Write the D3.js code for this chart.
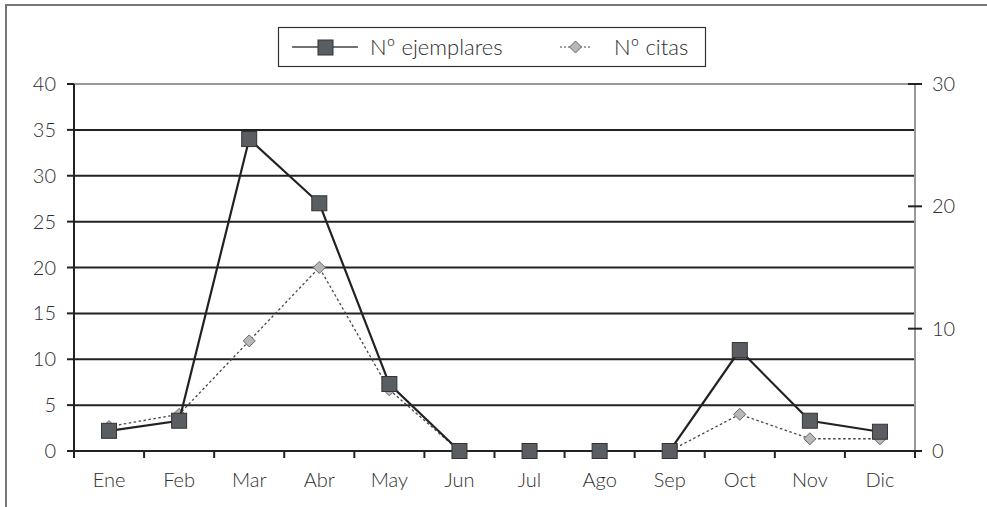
<!DOCTYPE html>
<html><head><meta charset="utf-8">
<script src="https://cdn.jsdelivr.net/npm/d3@7"></script>
<style>
body{margin:0;background:#fff;}
text{font-family:Lato,"Open Sans",sans-serif;font-weight:300;fill:#2e2e2e;}
</style></head><body>
<svg id="c" width="987" height="507"></svg>
<script>
const months = ["Ene","Feb","Mar","Abr","May","Jun","Jul","Ago","Sep","Oct","Nov","Dic"];
const ejemplares = [2.2,3.3,34,27,7.3,0,0,0,0,11,3.3,2.1];
const citas = [2,3,9,15,5,0,0,0,0,3,1,1];
const leftTicks = [0,5,10,15,20,25,30,35,40];
const rightTicks = [0,10,20,30];

const svg = d3.select("#c");
const L = 74, R = 915, T = 84, B = 451;

// frame
svg.append("path").attr("d","M6,507V5H987").attr("fill","none").attr("stroke","#777").attr("stroke-width",2);

const x = d3.scaleBand().domain(months).range([L,R]);
const yL = d3.scaleLinear().domain([0,40]).range([B,T]);
const yR = d3.scaleLinear().domain([0,30]).range([B,T]);

// gridlines
svg.append("g").selectAll("line").data(leftTicks.filter(d=>d>0)).join("line")
  .attr("x1",L).attr("x2",R).attr("y1",d=>yL(d)).attr("y2",d=>yL(d))
  .attr("stroke",d=>d===40?"#999":"#222").attr("stroke-width",2);

// right axis line
svg.append("line").attr("x1",R).attr("x2",R).attr("y1",T).attr("y2",B).attr("stroke","#999").attr("stroke-width",2);
svg.append("g").selectAll("line").data(rightTicks).join("line")
  .attr("x1",R-7).attr("x2",R+7).attr("y1",d=>yR(d)).attr("y2",d=>yR(d))
  .attr("stroke","#222").attr("stroke-width",2);
svg.append("g").selectAll("text").data(rightTicks).join("text")
  .attr("x",R+17).attr("y",d=>yR(d)).attr("dy","0.35em").attr("font-size",20).text(d=>d);

// left axis
svg.append("line").attr("x1",L).attr("x2",L).attr("y1",T).attr("y2",B+6).attr("stroke","#222").attr("stroke-width",2);
svg.append("g").selectAll("line").data(leftTicks).join("line")
  .attr("x1",L-7).attr("x2",L).attr("y1",d=>yL(d)).attr("y2",d=>yL(d))
  .attr("stroke","#222").attr("stroke-width",2);
svg.append("g").selectAll("text").data(leftTicks).join("text")
  .attr("x",L-18).attr("y",d=>yL(d)).attr("dy","0.35em").attr("text-anchor","end").attr("font-size",20).text(d=>d);

// x axis
svg.append("line").attr("x1",L-7).attr("x2",R+7).attr("y1",B).attr("y2",B).attr("stroke","#222").attr("stroke-width",2);
const bounds = months.map(m=>x(m)).concat([R]);
svg.append("g").selectAll("line").data(bounds).join("line")
  .attr("x1",d=>d).attr("x2",d=>d).attr("y1",B).attr("y2",B+7)
  .attr("stroke","#222").attr("stroke-width",2);
svg.append("g").selectAll("text").data(months).join("text")
  .attr("x",d=>x(d)+x.bandwidth()/2).attr("y",B+29).attr("dy","0.35em").attr("text-anchor","middle").attr("font-size",20).text(d=>d);

const cx = m => x(m)+x.bandwidth()/2;

// citas series (right axis)
const lineR = d3.line().x((d,i)=>cx(months[i])).y(d=>yR(d));
svg.append("path").datum(citas).attr("d",lineR).attr("fill","none").attr("stroke","#444").attr("stroke-width",1.3).attr("stroke-dasharray","2.5,2.5");
const dsz = 6;
svg.append("g").selectAll("path").data(citas).join("path")
  .attr("d",(d,i)=>{const px=cx(months[i]),py=yR(d);return `M${px},${py-dsz}L${px+dsz},${py}L${px},${py+dsz}L${px-dsz},${py}Z`;})
  .attr("fill","#b8b8b8").attr("stroke","#666").attr("stroke-width",1);

// ejemplares series (left axis)
const lineL = d3.line().x((d,i)=>cx(months[i])).y(d=>yL(d));
svg.append("path").datum(ejemplares).attr("d",lineL).attr("fill","none").attr("stroke","#222").attr("stroke-width",2.2);
const s = 15;
svg.append("g").selectAll("rect").data(ejemplares).join("rect")
  .attr("x",(d,i)=>cx(months[i])-s/2).attr("y",d=>yL(d)-s/2).attr("width",s).attr("height",s)
  .attr("fill","#5a5d62").attr("stroke","#333").attr("stroke-width",1);

// legend
const lg = svg.append("g");
lg.append("rect").attr("x",278.5).attr("y",27.5).attr("width",427).attr("height",39).attr("fill","#fff").attr("stroke","#333").attr("stroke-width",1.2);
lg.append("line").attr("x1",292).attr("x2",358).attr("y1",47).attr("y2",47).attr("stroke","#444").attr("stroke-width",1.3);
lg.append("rect").attr("x",318).attr("y",40).attr("width",15).attr("height",15).attr("fill","#5a5d62").attr("stroke","#333");
lg.append("text").attr("x",370).attr("y",47).attr("dy","0.35em").attr("font-size",22).text("Nº ejemplares");
lg.append("line").attr("x1",560).attr("x2",591).attr("y1",47).attr("y2",47).attr("stroke","#444").attr("stroke-width",1).attr("stroke-dasharray","2,2");
lg.append("path").attr("d","M575.5,41L581.5,47L575.5,53L569.5,47Z").attr("fill","#b8b8b8").attr("stroke","#666");
lg.append("text").attr("x",614).attr("y",47).attr("dy","0.35em").attr("font-size",22).text("Nº citas");
</script>
</body></html>
